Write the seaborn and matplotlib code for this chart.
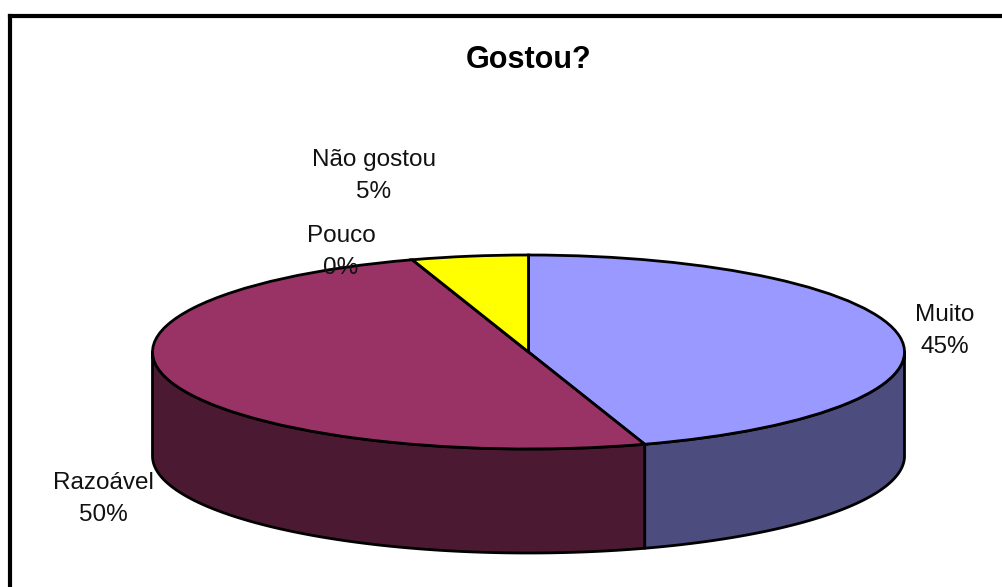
import numpy as np
import matplotlib
matplotlib.use("Agg")
import matplotlib.pyplot as plt
import seaborn as sns
from matplotlib.patches import Polygon
from matplotlib.transforms import Affine2D

# -------------------- DATA --------------------
categories = ["Muito", "Razoável", "Pouco", "Não gostou"]
percent = [45, 50, 0, 5]
top_colors = ["#9999FF", "#993366", "#FFFFCC", "#FFFF00"]
side_colors = ["#4C4C7F", "#4C1933", "#7F7F66", "#7F7F00"]

# -------------------- STYLE --------------------
sns.set_theme(style="white")
plt.rcParams["font.family"] = ["Liberation Sans", "DejaVu Sans"]

W, H = 1003, 587
fig = plt.figure(figsize=(W / 100, H / 100), dpi=100)
ax = fig.add_axes([0, 0, 1, 1])

# pie geometry in pixel units (y measured upward)
cx, cy = 528.5, H - 352
R = 376
squash = 97 / R
depth = 104

wedges, _ = ax.pie(percent, colors=top_colors, startangle=90, counterclock=False,
                   center=(cx, cy), radius=R,
                   wedgeprops=dict(edgecolor="black", linewidth=2.0))
tf = Affine2D().translate(-cx, -cy).scale(1, squash).translate(cx, cy) + ax.transData
for w in wedges:
    w.set_transform(tf)
    w.set_zorder(3)

# -------------------- SIDE WALLS --------------------
for w, col in zip(wedges, side_colors):
    t1, t2 = w.theta1, w.theta2
    for k in (-720, -360, 0, 360):
        a, b = max(t1 + k, 180), min(t2 + k, 360)
        if b > a:
            t = np.radians(np.linspace(a, b, 200))
            xs = cx + R * np.cos(t)
            ys = cy + R * squash * np.sin(t)
            pts = np.column_stack([np.r_[xs, xs[::-1]], np.r_[ys, ys[::-1] - depth]])
            ax.add_patch(Polygon(pts, closed=True, facecolor=col, edgecolor="black",
                                 linewidth=2.0, zorder=2, joinstyle="round"))

# -------------------- LABELS --------------------
label_pos = {"Muito": (945, 331), "Razoável": (103, 499),
             "Pouco": (341, 252), "Não gostou": (374, 176)}
for cat, p in zip(categories, percent):
    x, y = label_pos[cat]
    ax.text(x, H - y, f"{cat}\n{p}%", ha="center", va="center", fontsize=17.5,
            linespacing=1.6, color="#111111", zorder=5)

ax.text(529, H - 60, "Gostou?", ha="center", va="center", fontsize=22,
        fontweight="bold", color="black")

# frame (top and left edges only visible)
ax.plot([10, W], [H - 16, H - 16], color="black", linewidth=3, solid_capstyle="projecting")
ax.plot([10, 10], [H - 16, 0], color="black", linewidth=3, solid_capstyle="projecting")

ax.set_aspect("auto")
ax.set_xlim(0, W)
ax.set_ylim(0, H)
ax.axis("off")

fig.savefig("out.png", dpi=100, facecolor="white")
